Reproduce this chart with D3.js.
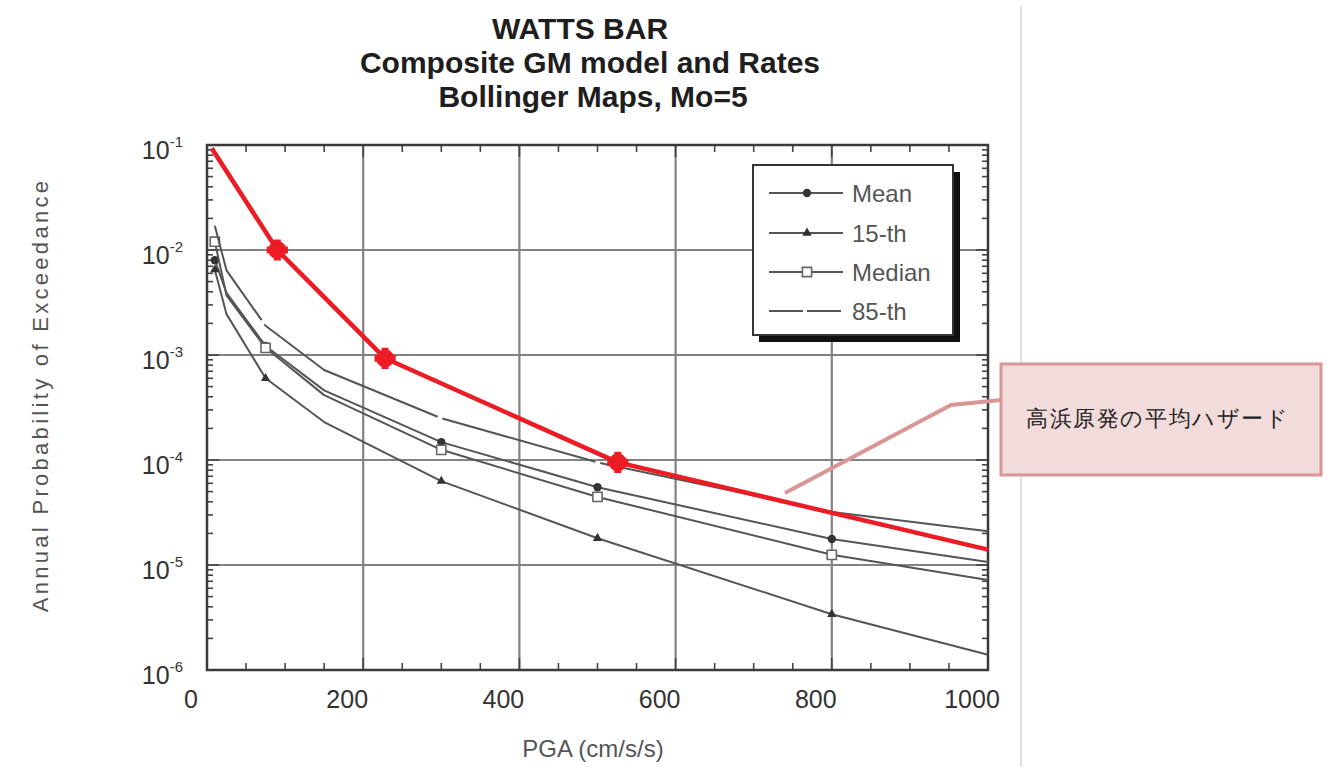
<!DOCTYPE html>
<html>
<head>
<meta charset="utf-8">
<script src="https://cdn.jsdelivr.net/npm/d3@7"></script>
<style>
  html, body { margin: 0; padding: 0; background: #fff; }
  svg { display: block; }
  text { font-family: "Liberation Sans", Arial, sans-serif; }
</style>
</head>
<body>
<svg id="chart" width="1329" height="767"></svg>
<script>
// Hazard curves
const pga = [10, 25, 75, 150, 300, 500, 800, 1000];
const meanVals = [8.0e-3, 3.9e-3, 1.22e-3, 4.6e-4, 1.48e-4, 5.5e-5, 1.77e-5, 1.07e-5];
const p15Vals = [6.5e-3, 2.45e-3, 6.0e-4, 2.3e-4, 6.3e-5, 1.8e-5, 3.4e-6, 1.4e-6];
const medianVals = [1.2e-2, 3.7e-3, 1.17e-3, 4.15e-4, 1.25e-4, 4.45e-5, 1.25e-5, 7.2e-6];
const p85Vals = [1.7e-2, 6.4e-3, 1.9e-3, 7.2e-4, 2.5e-4, 9.5e-5, 3.2e-5, 2.1e-5];
const markerPga = [10, 75, 300, 500, 800];

// Takahama mean hazard (red)
const hazPga = [6, 90, 228, 526, 1000];
const hazProb = [9.3e-2, 1.0e-2, 9.3e-4, 9.5e-5, 1.4e-5];
const starIdx = [1, 2, 3];

const xTicks = [0, 200, 400, 600, 800, 1000];
const yExps = [-1, -2, -3, -4, -5, -6];
const titleLines = ['WATTS BAR', 'Composite GM model and Rates', 'Bollinger Maps, Mo=5'];
const legendNames = ['Mean', '15-th', 'Median', '85-th'];
const calloutText = '高浜原発の平均ハザード';

const svg = d3.select('#chart');
const plotL = 207, plotR = 988, plotT = 145, plotB = 670;

const x = d3.scaleLinear().domain([0, 1000]).range([plotL, plotR]);
const y = d3.scaleLog().domain([1e-6, 1e-1]).range([plotB, plotT]);

// page divider
svg.append('line')
  .attr('x1', 1021).attr('x2', 1021).attr('y1', 6).attr('y2', 767)
  .attr('stroke', '#d6d6d6').attr('stroke-width', 1.5);

// Title
const titleX = [580, 590, 593];
titleLines.forEach((t, i) => {
  svg.append('text')
    .attr('x', titleX[i]).attr('y', 39 + i * 34)
    .attr('text-anchor', 'middle')
    .attr('font-size', 30).attr('font-weight', 'bold')
    .attr('fill', '#1e1e1e')
    .text(t);
});

// Grid
const grid = svg.append('g').attr('stroke', '#828282').attr('stroke-width', 2.2);
grid.selectAll('.vg').data(xTicks.slice(1, -1)).join('line')
  .attr('x1', d => x(d)).attr('x2', d => x(d)).attr('y1', plotT).attr('y2', plotB);
grid.selectAll('.hg').data(yExps.slice(1, -1)).join('line')
  .attr('y1', d => y(Math.pow(10, d))).attr('y2', d => y(Math.pow(10, d)))
  .attr('x1', plotL).attr('x2', plotR);

// Inside ticks (minor on both pairs of sides)
const ticks = svg.append('g').attr('stroke', '#444').attr('stroke-width', 1.6);
const xMinor = d3.range(50, 1000, 50).filter(v => v % 200 !== 0);
xMinor.forEach(v => {
  ticks.append('line').attr('x1', x(v)).attr('x2', x(v)).attr('y1', plotB).attr('y2', plotB - 7);
  ticks.append('line').attr('x1', x(v)).attr('x2', x(v)).attr('y1', plotT).attr('y2', plotT + 7);
});
xTicks.forEach(v => {
  ticks.append('line').attr('x1', x(v)).attr('x2', x(v)).attr('y1', plotB).attr('y2', plotB - 12);
  ticks.append('line').attr('x1', x(v)).attr('x2', x(v)).attr('y1', plotT).attr('y2', plotT + 12);
});
const yMinor = [];
for (let e = -6; e < -1; e++) for (let k = 2; k <= 9; k++) yMinor.push(k * Math.pow(10, e));
yMinor.forEach(v => {
  ticks.append('line').attr('x1', plotL).attr('x2', plotL + 6).attr('y1', y(v)).attr('y2', y(v));
  ticks.append('line').attr('x1', plotR).attr('x2', plotR - 6).attr('y1', y(v)).attr('y2', y(v));
});
yExps.forEach(e => {
  const v = Math.pow(10, e);
  ticks.append('line').attr('x1', plotL).attr('x2', plotL + 12).attr('y1', y(v)).attr('y2', y(v));
  ticks.append('line').attr('x1', plotR).attr('x2', plotR - 12).attr('y1', y(v)).attr('y2', y(v));
});

// Frame
svg.append('rect')
  .attr('x', plotL).attr('y', plotT).attr('width', plotR - plotL).attr('height', plotB - plotT)
  .attr('fill', 'none').attr('stroke', '#3a3a3a').attr('stroke-width', 2.5);

// Tick labels
svg.selectAll('.xl').data(xTicks).join('text')
  .attr('x', d => x(d) - 16).attr('y', 708)
  .attr('text-anchor', 'middle').attr('font-size', 25).attr('fill', '#333')
  .text(d => d);

yExps.forEach(e => {
  const t = svg.append('text')
    .attr('x', 183).attr('y', y(Math.pow(10, e)) + 14)
    .attr('text-anchor', 'end').attr('font-size', 25).attr('fill', '#333');
  t.append('tspan').text('10');
  t.append('tspan').attr('dy', -12).attr('font-size', 15).text(e);
});

// Axis titles
svg.append('text')
  .attr('x', 593).attr('y', 757)
  .attr('text-anchor', 'middle').attr('font-size', 24).attr('fill', '#555')
  .text('PGA (cm/s/s)');
svg.append('text')
  .attr('transform', 'translate(48,395) rotate(-90)')
  .attr('text-anchor', 'middle').attr('font-size', 22).attr('letter-spacing', 3.3)
  .attr('fill', '#555')
  .text('Annual Probability of Exceedance');

// Gray hazard curves
const line = d3.line().x(d => x(d[0])).y(d => y(d[1]));
const series = [
  { name: 'Mean', vals: meanVals, marker: 'circle' },
  { name: '15-th', vals: p15Vals, marker: 'triangle' },
  { name: 'Median', vals: medianVals, marker: 'square' },
  { name: '85-th', vals: p85Vals, marker: null },
];

const markerPath = {
  circle: d3.symbol(d3.symbolCircle, 55)(),
  triangle: d3.symbol(d3.symbolTriangle, 38)(),
  square: d3.symbol(d3.symbolSquare, 85)(),
};
function drawMarker(g, type, cx, cy) {
  const p = g.append('path').attr('d', markerPath[type]).attr('transform', `translate(${cx},${cy})`);
  if (type === 'square') p.attr('fill', '#fff').attr('stroke', '#666').attr('stroke-width', 1.6);
  else p.attr('fill', '#333');
}

const curves = svg.append('g');
series.forEach(s => {
  const pts = pga.map((p, i) => [p, s.vals[i]]);
  const path = curves.append('path')
    .attr('d', line(pts))
    .attr('fill', 'none').attr('stroke', '#555').attr('stroke-width', 2)
    .attr('stroke-linejoin', 'round');
  // long dashes, gaps fall where the scan shows them
  if (s.name === '85-th') path.attr('stroke-dasharray', '107,5,198,5,159,5,1000');
  if (s.marker) {
    markerPga.forEach(mp => {
      const i = pga.indexOf(mp);
      drawMarker(curves, s.marker, x(mp), y(s.vals[i]));
    });
  }
});

// Red hazard line with stars
const red = '#ec1c24';
const hazPts = hazPga.map((p, i) => [p, hazProb[i]]);
svg.append('path')
  .attr('d', line(hazPts))
  .attr('fill', 'none').attr('stroke', red).attr('stroke-width', 4.5)
  .attr('stroke-linejoin', 'round');
const crossBig = d3.symbol(d3.symbolCross, 250)();
const crossSmall = d3.symbol(d3.symbolCross, 175)();
starIdx.forEach(i => {
  const g = svg.append('g').attr('transform', `translate(${x(hazPga[i])},${y(hazProb[i])})`);
  g.append('path').attr('d', crossBig).attr('fill', red);
  g.append('path').attr('d', crossSmall).attr('fill', red).attr('transform', 'rotate(45)');
});

// Legend
const lg = svg.append('g');
lg.append('rect').attr('x', 759).attr('y', 172).attr('width', 201).attr('height', 170).attr('fill', '#111');
lg.append('rect').attr('x', 753).attr('y', 165).attr('width', 200).attr('height', 170)
  .attr('fill', '#fff').attr('stroke', '#333').attr('stroke-width', 2);
const legendY = [193, 233, 272, 311];
series.forEach((s, i) => {
  const ly = legendY[i];
  const seg = lg.append('line')
    .attr('x1', 769).attr('x2', 843).attr('y1', ly).attr('y2', ly)
    .attr('stroke', '#555').attr('stroke-width', 2);
  if (!s.marker) seg.attr('stroke-dasharray', '34,4');
  else drawMarker(lg, s.marker, 807, ly);
  lg.append('text')
    .attr('x', 852).attr('y', ly + 9)
    .attr('font-size', 24).attr('fill', '#555')
    .text(legendNames[i]);
});

// Callout
const callColor = '#d99694';
svg.append('polyline')
  .attr('points', [[785, 493], [951, 405], [1001, 400]].map(p => p.join(',')).join(' '))
  .attr('fill', 'none').attr('stroke', callColor).attr('stroke-width', 4);
svg.append('rect')
  .attr('x', 1001).attr('y', 364).attr('width', 320).attr('height', 111)
  .attr('fill', '#f2dcdb').attr('stroke', callColor).attr('stroke-width', 3);
svg.append('text')
  .attr('x', 1026).attr('y', 426)
  .attr('font-family', '"Noto Sans CJK JP", sans-serif')
  .attr('font-size', 22).attr('font-weight', 300).attr('letter-spacing', 1.6)
  .attr('fill', '#222')
  .text(calloutText);
</script>
</body>
</html>
